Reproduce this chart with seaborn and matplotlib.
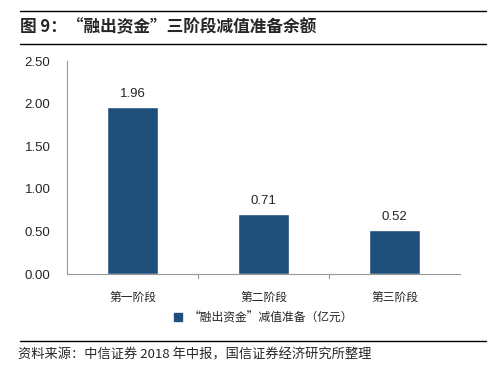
import numpy as np
import pandas as pd
import matplotlib.pyplot as plt
import seaborn as sns
from matplotlib.lines import Line2D
from matplotlib.patches import Patch

# data
stages = ['第一阶段', '第二阶段', '第三阶段']
reserve = [1.96, 0.71, 0.52]
series_name = '“融出资金”减值准备（亿元）'

df = pd.DataFrame({'stage': stages, 'value': reserve})

sns.set_theme(style='white')
plt.rcParams['font.family'] = ['Noto Sans CJK SC', 'DejaVu Sans']

fig = plt.figure(figsize=(5.04, 3.68), dpi=100)
ax = fig.add_axes([0.133, 0.255, 0.78, 0.579])

bar_color = '#1F4E7A'
sns.barplot(data=df, x='stage', y='value', color=bar_color, width=0.39,
            saturation=1, ax=ax)

ax.set_xlim(-0.5, 2.5)
ax.set_ylim(0, 2.5)
ax.set_yticks(np.arange(0, 2.51, 0.5))
ax.set_yticklabels([f'{v:.2f}' for v in np.arange(0, 2.51, 0.5)],
                   family='Liberation Sans', fontsize=9.5)
ax.set_xticks([0, 1, 2])
ax.set_xticklabels(stages, fontsize=8.5)
ax.tick_params(axis='x', length=0, pad=12)
ax.tick_params(axis='y', length=4, color='#999999', direction='out', pad=8)
ax.set_xlabel('')
ax.set_ylabel('')

# boundary ticks on x axis
for xb in [0.5, 1.5]:
    ax.plot([xb, xb], [0, -0.05], color='#999999', lw=0.8, clip_on=False)

for s in ['top', 'right']:
    ax.spines[s].set_visible(False)
ax.spines['left'].set_color('#999999')
ax.spines['bottom'].set_color('#999999')
ax.spines['left'].set_linewidth(0.8)
ax.spines['bottom'].set_linewidth(0.8)

for i, v in enumerate(reserve):
    ax.text(i, v + 0.08, f'{v:.2f}', ha='center', va='bottom',
            family='Liberation Sans', fontsize=9.5)

leg = ax.legend(handles=[Patch(color=bar_color, label=series_name)],
                loc='center', bbox_to_anchor=(0.5, -0.205), frameon=False,
                fontsize=8.5, handlelength=0.7, handleheight=0.7, handletextpad=0.6)

# title and rules
fig.add_artist(Line2D([0.04, 0.965], [0.97, 0.97], color='black', lw=1))
fig.add_artist(Line2D([0.04, 0.965], [0.88, 0.88], color='black', lw=1))
fig.text(0.04, 0.925, '图 9：“融出资金”三阶段减值准备余额', fontsize=12,
         fontweight='bold', va='center', ha='left')
fig.add_artist(Line2D([0.04, 0.965], [0.073, 0.073], color='black', lw=1))
fig.text(0.036, 0.035, '资料来源：中信证券 2018 年中报，国信证券经济研究所整理', fontsize=9.5,
         va='center', ha='left')

fig.savefig('out.png', dpi=100)
